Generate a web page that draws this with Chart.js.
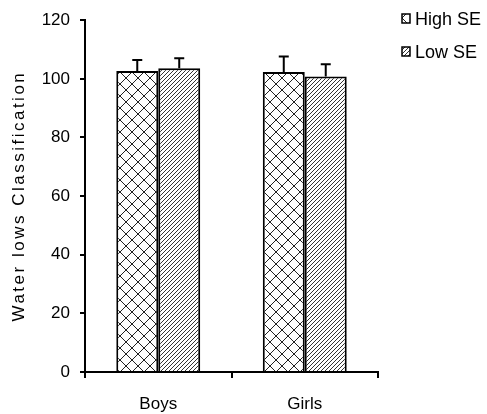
<!DOCTYPE html>
<html>
<head>
<meta charset="utf-8">
<script src="https://cdn.jsdelivr.net/npm/chart.js@4/dist/chart.umd.min.js"></script>
<style>
  html, body { margin: 0; padding: 0; background: #fff; }
  #wrap { width: 487px; height: 414px; }
</style>
</head>
<body>
<div id="wrap"><canvas id="chart"></canvas></div>
<script>
// data
const groups = ["Boys", "Girls"];
const highSE = [102.7, 102.3];
const lowSE = [103.6, 100.8];
const highErr = [3.7, 5.3];
const lowErr = [3.4, 4.2];
const yTicks = [0, 20, 40, 60, 80, 100, 120];
const yTitle = "Water lows Classification";

const FAMILY = "'Liberation Sans', Arial, sans-serif";

function crossPattern() {
    const c = document.createElement("canvas");
    c.width = 12; c.height = 12;
    const g = c.getContext("2d");
    g.fillStyle = "#fff";
    g.fillRect(0, 0, 12, 12);
    g.strokeStyle = "#222";
    g.lineWidth = 1;
    g.beginPath();
    g.moveTo(0, 0); g.lineTo(12, 12);
    g.moveTo(12, 0); g.lineTo(0, 12);
    g.stroke();
    return g.createPattern(c, "repeat");
}

function hatchPattern() {
    const c = document.createElement("canvas");
    c.width = 4; c.height = 4;
    const g = c.getContext("2d");
    g.fillStyle = "#fff";
    g.fillRect(0, 0, 4, 4);
    g.strokeStyle = "#333";
    g.lineWidth = 1;
    g.beginPath();
    g.moveTo(-1, 5); g.lineTo(5, -1);
    g.stroke();
    return g.createPattern(c, "repeat");
}

// upward error bars
const errorBars = {
    id: "errorBars",
    afterDatasetsDraw(chart) {
        const ctx = chart.ctx;
        const y = chart.scales.y;
        chart.data.datasets.forEach((ds, i) => {
            chart.getDatasetMeta(i).data.forEach((bar, j) => {
                const top = y.getPixelForValue(ds.data[j] + ds.errors[j]);
                ctx.save();
                ctx.strokeStyle = "#000";
                ctx.lineWidth = 2;
                ctx.beginPath();
                ctx.moveTo(bar.x, bar.y);
                ctx.lineTo(bar.x, top);
                ctx.moveTo(bar.x - 5, top);
                ctx.lineTo(bar.x + 5, top);
                ctx.stroke();
                ctx.restore();
            });
        });
    }
};

// legend in the top right corner and the spaced-out y title
const extras = {
    id: "extras",
    afterDraw(chart) {
        const ctx = chart.ctx;
        ctx.save();
        ctx.font = "18px " + FAMILY;
        ctx.textBaseline = "middle";
        chart.data.datasets.forEach((ds, i) => {
            const cy = 19 + i * 33;
            ctx.fillStyle = ds.backgroundColor;
            ctx.fillRect(402, cy - 5, 8, 9);
            ctx.strokeStyle = "#000";
            ctx.lineWidth = 1.5;
            ctx.strokeRect(402, cy - 5, 8, 9);
            ctx.fillStyle = "#000";
            ctx.fillText(ds.label, 415, cy + 1);
        });
        ctx.font = "17px " + FAMILY;
        const a = chart.chartArea;
        ctx.translate(19, (a.top + a.bottom) / 2);
        ctx.rotate(-Math.PI / 2);
        ctx.textAlign = "center";
        ctx.letterSpacing = "2.5px";
        ctx.fillText(yTitle, 0, 0);
        ctx.restore();
    }
};

const font = { family: FAMILY, size: 17 };

new Chart(document.getElementById("chart"), {
    type: "bar",
    data: {
        labels: groups,
        datasets: [
            {
                label: "High SE",
                data: highSE,
                errors: highErr,
                backgroundColor: crossPattern(),
                borderColor: "#000",
                borderWidth: 2,
                barPercentage: 1.0,
                categoryPercentage: 0.573
            },
            {
                label: "Low SE",
                data: lowSE,
                errors: lowErr,
                backgroundColor: hatchPattern(),
                borderColor: "#000",
                borderWidth: 2,
                barPercentage: 1.0,
                categoryPercentage: 0.573
            }
        ]
    },
    options: {
        responsive: true,
        maintainAspectRatio: false,
        animation: false,
        layout: { padding: { top: 19, right: 109, left: 0, bottom: 0 } },
        plugins: {
            legend: { display: false },
            tooltip: { enabled: false }
        },
        scales: {
            x: {
                afterFit: s => { s.height = 42; },
                grid: { display: true, drawOnChartArea: false, color: "#000", tickLength: 6, lineWidth: 2, offset: true },
                border: { display: true, color: "#000", width: 2 },
                ticks: { color: "#000", font: font, padding: 16 }
            },
            y: {
                min: 0,
                max: 120,
                afterFit: s => { s.width = 85; },
                afterBuildTicks: s => { s.ticks = yTicks.map(v => ({ value: v })); },
                grid: { display: true, drawOnChartArea: false, color: "#000", tickLength: 5, lineWidth: 2 },
                border: { display: true, color: "#000", width: 2 },
                ticks: { color: "#000", font: font, padding: 10 }
            }
        }
    },
    plugins: [errorBars, extras]
});
</script>
</body>
</html>
